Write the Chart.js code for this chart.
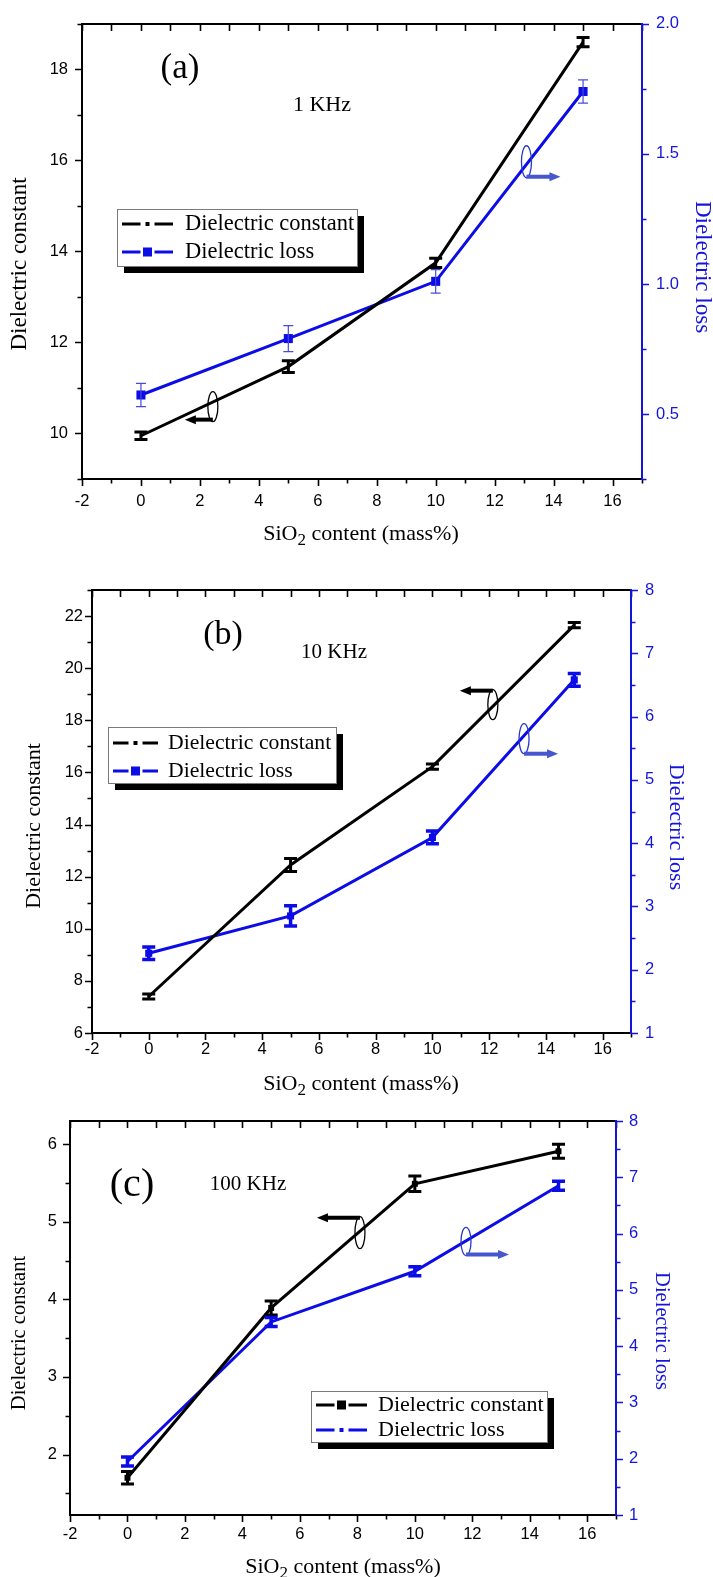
<!DOCTYPE html>
<html><head><meta charset="utf-8">
<script src="https://cdn.jsdelivr.net/npm/chart.js@4/dist/chart.umd.min.js"></script>
<style>
html,body{margin:0;padding:0;background:#fff;}
#wrap{position:relative;width:713px;height:1577px;overflow:hidden;background:#fff;}
canvas{position:absolute;left:0;}
</style></head><body>
<div id="wrap">
<canvas id="ca" width="713" height="555" style="top:0px"></canvas>
<canvas id="cb" width="713" height="540" style="top:555px"></canvas>
<canvas id="cc" width="713" height="482" style="top:1095px"></canvas>
</div>
<script>
// ---------------- DATA ----------------
const sio2Content = [0, 5, 10, 15];
const xTicks = [-2, 0, 2, 4, 6, 8, 10, 12, 14, 16];

// (a) 1 KHz
const constA = [9.95, 11.47, 13.75, 18.6];
const constErrA = [0.08, 0.13, 0.1, 0.1];
const lossA = [0.573, 0.79, 1.01, 1.74];
const lossErrA = [0.045, 0.05, 0.045, 0.045];
const leftTicksA = [10, 12, 14, 16, 18];
const rightTicksA = [0.5, 1.0, 1.5, 2.0];

// (b) 10 KHz
const constB = [7.40, 12.45, 16.22, 21.65];
const constErrB = [0.1, 0.25, 0.1, 0.1];
const lossB = [2.26, 2.85, 4.09, 6.58];
const lossErrB = [0.1, 0.16, 0.1, 0.1];
const leftTicksB = [6, 8, 10, 12, 14, 16, 18, 20, 22];
const rightTicksB = [1, 2, 3, 4, 5, 6, 7, 8];

// (c) 100 KHz
const constC = [1.70, 3.89, 5.49, 5.91];
const constErrC = [0.08, 0.09, 0.1, 0.09];
const lossC = [1.95, 4.43, 5.33, 6.85];
const lossErrC = [0.08, 0.08, 0.08, 0.08];
const leftTicksC = [2, 3, 4, 5, 6];
const rightTicksC = [1, 2, 3, 4, 5, 6, 7, 8];

const seriesNames = ['Dielectric constant', 'Dielectric loss'];
const yTitleLeft = 'Dielectric constant';
const yTitleRight = 'Dielectric loss';

// ---------------- STYLE / LAYOUT ----------------
const W = 713;
const BLUE = '#0c0ce6';
const BLUE_AX = '#1414dc';
const ARROW_BLUE = '#4656cc';
const SERIF = '"Liberation Serif", "Times New Roman", serif';
const SANS = '"Liberation Sans", Arial, sans-serif';

const panels = [
  {
    id: 'ca', top: 0, height: 555, area: {l: 82, r: 642, t: 22, b: 479},
    xMin: -2, xMax: 17, yMin: 9, yMax: 19, y1Min: 0.25, y1Max: 2.0,
    leftTicks: leftTicksA, rightTicks: rightTicksA, leftMinor: 1, rightMinor: 0.25, rightDec: 1,
    cons: constA, consErr: constErrA, loss: lossA, lossErr: lossErrA,
    consPt: 0, lossPt: 6.4, lossErrThin: true,
    padL: 14, padR: 14, padX: 13,
    titleSize: 23, xTitleSize: 22, legSize: 22.5, freqSize: 22,
    label: {t: '(a)', x: 180, y: 69, size: 35}, freq: {t: '1 KHz', x: 322, y: 105},
    ltitle: {x: 20, y: 264}, rtitle: {x: 702, y: 267}, xtitle: {x: 361, y: 534},
    legend: {x: 117, y: 209, w: 240, h: 57, rows: [224, 252], sx0: 122, sx1: 173, tx: 185,
      styles: [{c: '#000', m: 'dot'}, {c: BLUE, m: 'sq'}]},
    ann: [
      {ax: 'y', x: 2.44, y: 10.59, rx: 5, ry: 15, at: 13, dir: -1, len: 28, c: '#000', ac: '#000'},
      {ax: 'y1', x: 13.08, y: 1.47, rx: 5, ry: 16, at: 15, dir: 1, len: 34, c: '#2838c8', ac: ARROW_BLUE}
    ]
  },
  {
    id: 'cb', top: 555, height: 540, area: {l: 92, r: 631, t: 35, b: 478},
    xMin: -2, xMax: 17, yMin: 6, yMax: 23, y1Min: 1, y1Max: 8,
    leftTicks: leftTicksB, rightTicks: rightTicksB, leftMinor: 1, rightMinor: 0.5, rightDec: 0,
    cons: constB, consErr: constErrB, loss: lossB, lossErr: lossErrB,
    consPt: 0, lossPt: 5, lossErrThin: false,
    padL: 9, padR: 14, padX: 7,
    titleSize: 22, xTitleSize: 22, legSize: 21.7, freqSize: 21,
    label: {t: '(b)', x: 223, y: 635, size: 34}, freq: {t: '10 KHz', x: 334, y: 652},
    ltitle: {x: 34, y: 826}, rtitle: {x: 676, y: 827}, xtitle: {x: 361, y: 1084},
    legend: {x: 108, y: 727, w: 228, h: 56, rows: [743, 771], sx0: 113, sx1: 158, tx: 168,
      styles: [{c: '#000', m: 'dot'}, {c: BLUE, m: 'sq'}]},
    ann: [
      {ax: 'y', x: 12.13, y: 18.6, rx: 5, ry: 15, at: -14, dir: -1, len: 33, c: '#000', ac: '#000'},
      {ax: 'y1', x: 13.23, y: 5.65, rx: 5, ry: 15, at: 15, dir: 1, len: 34, c: '#2838c8', ac: ARROW_BLUE}
    ]
  },
  {
    id: 'cc', top: 1095, height: 482, area: {l: 70, r: 616, t: 26, b: 420},
    xMin: -2, xMax: 17, yMin: 1.22, yMax: 6.3, y1Min: 1, y1Max: 8,
    leftTicks: leftTicksC, rightTicks: rightTicksC, leftMinor: 0.5, rightMinor: 0.5, rightDec: 0,
    cons: constC, consErr: constErrC, loss: lossC, lossErr: lossErrC,
    consPt: 4.2, lossPt: 0, lossErrThin: false,
    padL: 13, padR: 13, padX: 10,
    titleSize: 20.5, xTitleSize: 22, legSize: 22, freqSize: 21,
    label: {t: '(c)', x: 132, y: 1185, size: 40}, freq: {t: '100 KHz', x: 248, y: 1184},
    ltitle: {x: 20, y: 1333}, rtitle: {x: 661, y: 1331}, xtitle: {x: 343, y: 1567},
    legend: {x: 311, y: 1391, w: 236, h: 51, rows: [1405, 1430], sx0: 316, sx1: 367, tx: 378,
      styles: [{c: '#000', m: 'sq'}, {c: BLUE, m: 'dot'}]},
    ann: [
      {ax: 'y', x: 8.09, y: 4.86, rx: 5, ry: 16, at: -15, dir: -1, len: 43, c: '#000', ac: '#000'},
      {ax: 'y1', x: 11.78, y: 5.86, rx: 5, ry: 14, at: 13, dir: 1, len: 43, c: '#2838c8', ac: ARROW_BLUE}
    ]
  }
];

function near(v, arr) { return arr.some(a => Math.abs(a - v) < 1e-6); }

const decoPlugin = {
  id: 'deco',
  afterDatasetsDraw(chart) {
    const ctx = chart.ctx;
    chart.data.datasets.forEach((ds, i) => {
      const meta = chart.getDatasetMeta(i);
      const ys = chart.scales[ds.yAxisID];
      ctx.save();
      ctx.strokeStyle = ds.errColor;
      ctx.lineWidth = ds.errWidth;
      ds.data.forEach((p, j) => {
        const e = ds.errors[j];
        const px = meta.data[j].x;
        const y1 = ys.getPixelForValue(p.y + e), y2 = ys.getPixelForValue(p.y - e);
        const c = ds.errCap;
        ctx.beginPath();
        ctx.moveTo(px, y1); ctx.lineTo(px, y2);
        ctx.moveTo(px - c, y1); ctx.lineTo(px + c, y1);
        ctx.moveTo(px - c, y2); ctx.lineTo(px + c, y2);
        ctx.stroke();
      });
      ctx.restore();
    });
  },
  afterDraw(chart) {
    const P = chart.options.plugins.deco.panel;
    const ctx = chart.ctx;
    const {left, right, top, bottom} = chart.chartArea;
    const xs = chart.scales.x, yl = chart.scales.y, yr = chart.scales.y1;
    const off = P.top;
    ctx.save();
    // ticks
    ctx.lineWidth = 1.6;
    ctx.strokeStyle = '#000';
    ctx.beginPath();
    for (let v = Math.ceil(xs.min - 1e-9); v <= xs.max + 1e-9; v += 1) {
      const px = Math.round(xs.getPixelForValue(v)) + 0.5;
      const len = near(v, xTicks) ? 7 : 4.5;
      ctx.moveTo(px, bottom); ctx.lineTo(px, bottom + len);
      ctx.moveTo(px, top); ctx.lineTo(px, top + 7);
    }
    for (let v = Math.ceil(yl.min / P.leftMinor - 1e-9) * P.leftMinor; v <= yl.max + 1e-9; v += P.leftMinor) {
      const py = Math.round(yl.getPixelForValue(v)) + 0.5;
      const len = near(v, P.leftTicks) ? 7 : 4.5;
      ctx.moveTo(left, py); ctx.lineTo(left - len, py);
    }
    ctx.stroke();
    ctx.strokeStyle = BLUE_AX;
    ctx.beginPath();
    for (let v = Math.ceil(yr.min / P.rightMinor - 1e-9) * P.rightMinor; v <= yr.max + 1e-9; v += P.rightMinor) {
      const py = Math.round(yr.getPixelForValue(v)) + 0.5;
      const len = near(v, P.rightTicks) ? 7 : 4.5;
      ctx.moveTo(right, py); ctx.lineTo(right + len, py);
    }
    ctx.stroke();
    // frame
    ctx.lineWidth = 2;
    ctx.strokeStyle = '#000';
    ctx.beginPath();
    ctx.moveTo(right, top); ctx.lineTo(left, top); ctx.lineTo(left, bottom); ctx.lineTo(right, bottom);
    ctx.stroke();
    ctx.strokeStyle = BLUE_AX;
    ctx.beginPath();
    ctx.moveTo(right, top - 1); ctx.lineTo(right, bottom + 1);
    ctx.stroke();

    // axis titles
    ctx.fillStyle = '#000';
    ctx.font = P.titleSize + 'px ' + SERIF;
    ctx.textAlign = 'center'; ctx.textBaseline = 'middle';
    ctx.save();
    ctx.translate(P.ltitle.x, P.ltitle.y - off); ctx.rotate(-Math.PI / 2);
    ctx.fillText(yTitleLeft, 0, 0);
    ctx.restore();
    ctx.save();
    ctx.fillStyle = BLUE_AX;
    ctx.translate(P.rtitle.x, P.rtitle.y - off); ctx.rotate(Math.PI / 2);
    ctx.fillText(yTitleRight, 0, 0);
    ctx.restore();
    // x title with subscript
    {
      const a = 'SiO', sub = '2', b = ' content (mass%)';
      const fs = P.xTitleSize, ss = Math.round(fs * 0.75);
      ctx.font = fs + 'px ' + SERIF;
      const wa = ctx.measureText(a).width, wb = ctx.measureText(b).width;
      ctx.font = ss + 'px ' + SERIF;
      const ws = ctx.measureText(sub).width;
      const tot = wa + ws + wb;
      let x = P.xtitle.x - tot / 2, y = P.xtitle.y - off;
      ctx.textAlign = 'left';
      ctx.font = fs + 'px ' + SERIF;
      ctx.fillText(a, x, y);
      ctx.font = ss + 'px ' + SERIF;
      ctx.fillText(sub, x + wa, y + 7);
      ctx.font = fs + 'px ' + SERIF;
      ctx.fillText(b, x + wa + ws, y);
    }
    // panel label and frequency
    ctx.textAlign = 'center';
    ctx.font = P.label.size + 'px ' + SERIF;
    ctx.fillText(P.label.t, P.label.x, P.label.y - off);
    ctx.font = P.freqSize + 'px ' + SERIF;
    ctx.fillText(P.freq.t, P.freq.x, P.freq.y - off);

    // legend
    const L = P.legend;
    ctx.fillStyle = '#000';
    ctx.fillRect(L.x + 7, L.y - off + 7, L.w, L.h);
    ctx.fillStyle = '#fff';
    ctx.fillRect(L.x, L.y - off, L.w, L.h);
    ctx.strokeStyle = '#7a7a7a';
    ctx.lineWidth = 1;
    ctx.strokeRect(L.x + 0.5, L.y - off + 0.5, L.w, L.h);
    L.styles.forEach((s, k) => {
      const y = L.rows[k] - off;
      const x0 = L.sx0, x1 = L.sx1, mid = (x0 + x1) / 2;
      ctx.strokeStyle = s.c; ctx.fillStyle = s.c; ctx.lineWidth = 3;
      ctx.beginPath();
      ctx.moveTo(x0, y); ctx.lineTo(mid - 7, y);
      ctx.moveTo(mid + 7, y); ctx.lineTo(x1, y);
      ctx.stroke();
      if (s.m === 'sq') ctx.fillRect(mid - 4.5, y - 4.5, 9, 9);
      else ctx.fillRect(mid - 2, y - 2, 4, 4);
      ctx.fillStyle = '#000';
      ctx.textAlign = 'left'; ctx.textBaseline = 'middle';
      ctx.font = P.legSize + 'px ' + SERIF;
      ctx.fillText(seriesNames[k], L.tx, y);
    });

    // axis indicator annotations
    P.ann.forEach(a => {
      const sc = chart.scales[a.ax];
      const cx = xs.getPixelForValue(a.x), cy = sc.getPixelForValue(a.y);
      ctx.strokeStyle = a.c; ctx.lineWidth = 1.3;
      ctx.beginPath();
      ctx.ellipse(cx, cy, a.rx, a.ry, 0, 0, Math.PI * 2);
      ctx.stroke();
      const ay = cy + a.at;
      const ex = cx + a.dir * a.len;
      ctx.strokeStyle = a.ac; ctx.fillStyle = a.ac; ctx.lineWidth = 4;
      ctx.beginPath();
      ctx.moveTo(cx, ay); ctx.lineTo(ex - a.dir * 8, ay);
      ctx.stroke();
      ctx.beginPath();
      ctx.moveTo(ex, ay); ctx.lineTo(ex - a.dir * 11, ay - 4.5); ctx.lineTo(ex - a.dir * 11, ay + 4.5);
      ctx.closePath(); ctx.fill();
    });
    ctx.restore();
  }
};

panels.forEach(P => {
  const H = P.height;
  const pts = arr => sio2Content.map((x, i) => ({x: x, y: arr[i]}));
  new Chart(document.getElementById(P.id), {
    type: 'line',
    data: {
      datasets: [
        {
          label: seriesNames[0], data: pts(P.cons), yAxisID: 'y',
          borderColor: '#000', backgroundColor: '#000', borderWidth: 3,
          pointStyle: 'rect', pointRadius: P.consPt, pointBorderWidth: 0,
          errors: P.consErr, errColor: '#000', errWidth: 3, errCap: 6.5
        },
        {
          label: seriesNames[1], data: pts(P.loss), yAxisID: 'y1',
          borderColor: BLUE, backgroundColor: BLUE, borderWidth: 3,
          pointStyle: 'rect', pointRadius: P.lossPt, pointBorderWidth: 0,
          errors: P.lossErr,
          errColor: P.lossErrThin ? '#4a4ad8' : BLUE,
          errWidth: P.lossErrThin ? 1.2 : 3.5, errCap: P.lossErrThin ? 5 : 6.5
        }
      ]
    },
    options: {
      responsive: false, animation: false, devicePixelRatio: 1,
      layout: {padding: {top: P.area.t, left: 0, right: 0, bottom: 0}},
      plugins: {legend: {display: false}, tooltip: {enabled: false}, deco: {panel: P}},
      scales: {
        x: {
          type: 'linear', position: 'bottom', min: P.xMin, max: P.xMax,
          afterBuildTicks: s => { s.ticks = xTicks.map(v => ({value: v})); },
          afterFit: s => { s.height = H - P.area.b; },
          grid: {display: false, drawTicks: false}, border: {display: false},
          ticks: {color: '#000', font: {family: SANS, size: 16.5}, padding: P.padX, maxRotation: 0, autoSkip: false,
            callback: v => String(v)}
        },
        y: {
          type: 'linear', position: 'left', min: P.yMin, max: P.yMax,
          afterBuildTicks: s => { s.ticks = P.leftTicks.map(v => ({value: v})); },
          afterFit: s => { s.width = P.area.l; },
          grid: {display: false, drawTicks: false}, border: {display: false},
          ticks: {color: '#000', font: {family: SANS, size: 16.5}, padding: P.padL, autoSkip: false,
            callback: v => String(v)}
        },
        y1: {
          type: 'linear', position: 'right', min: P.y1Min, max: P.y1Max,
          afterBuildTicks: s => { s.ticks = P.rightTicks.map(v => ({value: v})); },
          afterFit: s => { s.width = W - P.area.r; },
          grid: {display: false, drawTicks: false}, border: {display: false},
          ticks: {color: BLUE_AX, font: {family: SANS, size: 16.5}, padding: P.padR, autoSkip: false,
            callback: v => Number(v).toFixed(P.rightDec)}
        }
      }
    },
    plugins: [decoPlugin]
  });
});
</script>
</body></html>
